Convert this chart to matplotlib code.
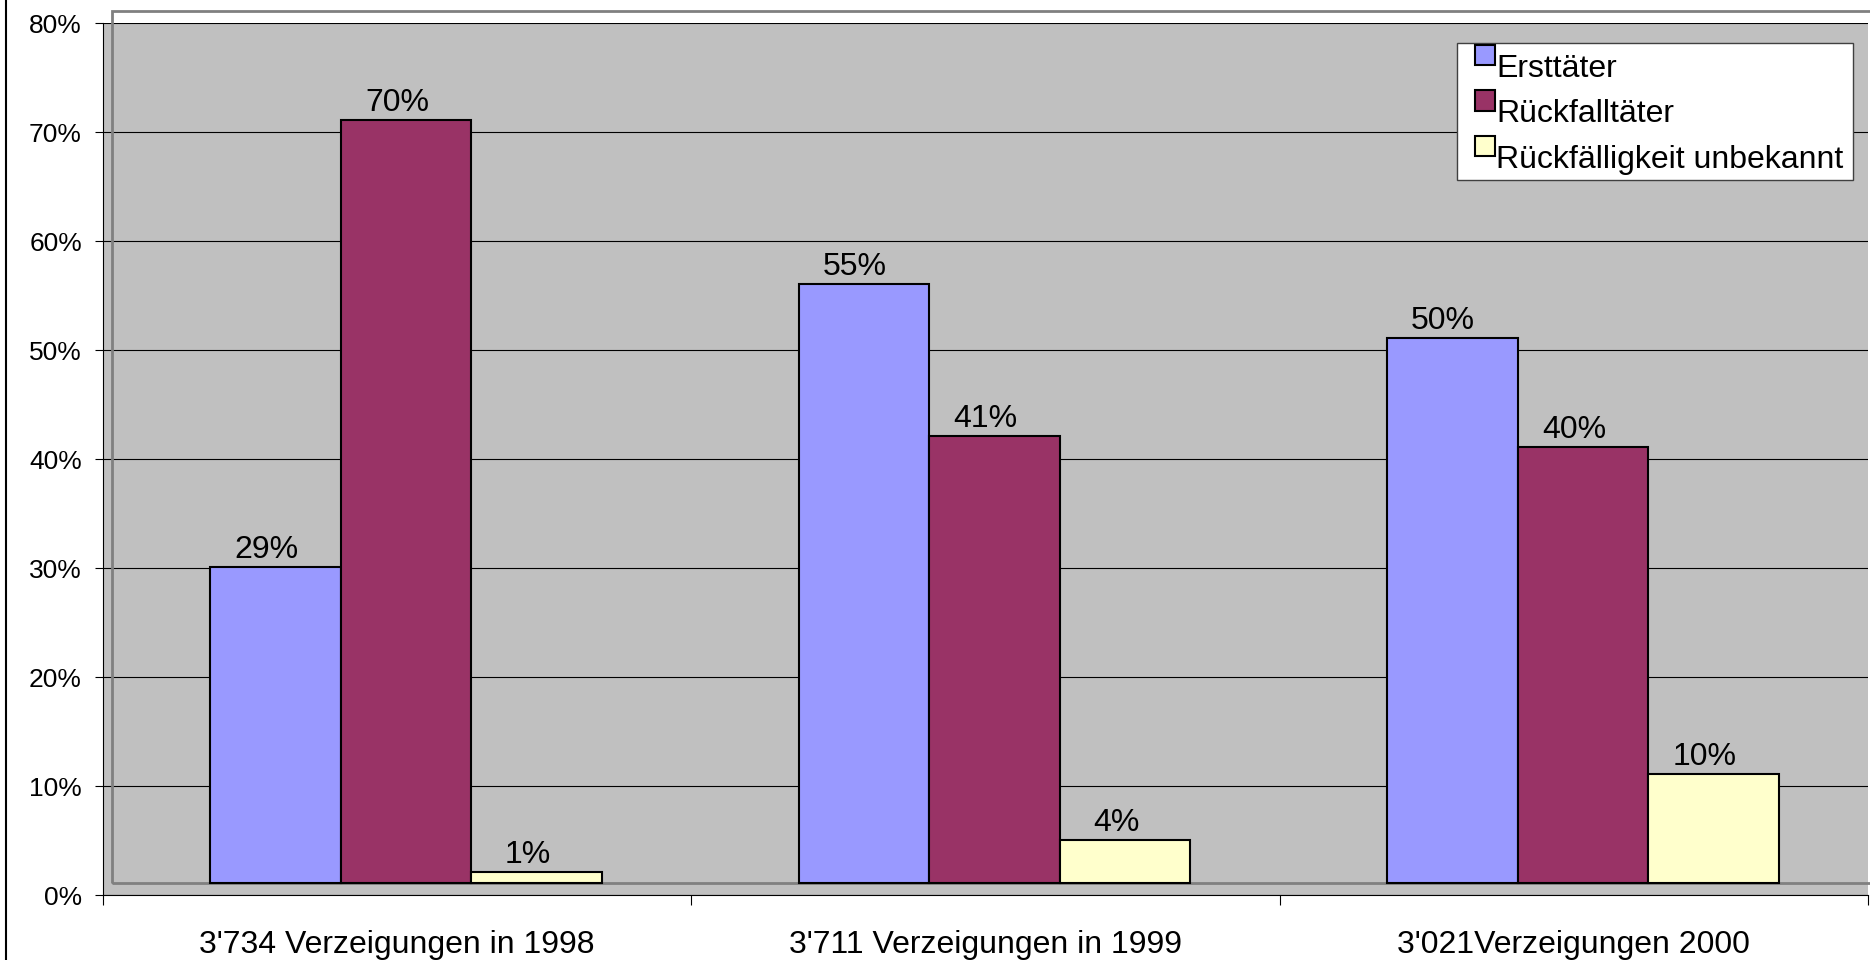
import numpy as np
import matplotlib.pyplot as plt
from matplotlib.patches import Rectangle
from matplotlib.lines import Line2D

plt.rcParams['font.family'] = ['Liberation Sans', 'DejaVu Sans']

# -----------------------------------------------------------------------
# Data (percent)
# -----------------------------------------------------------------------
categories = ["3'734 Verzeigungen in 1998",
              "3'711 Verzeigungen in 1999",
              "3'021Verzeigungen 2000"]
series_names = ['Ersttäter', 'Rückfalltäter', 'Rückfälligkeit unbekannt']
ersttaeter = [29, 55, 50]
rueckfalltaeter = [70, 41, 40]
unbekannt = [1, 4, 10]
series_values = [ersttaeter, rueckfalltaeter, unbekannt]
colors = ['#9999FF', '#993366', '#FFFFCC']

# -----------------------------------------------------------------------
# Layout helpers (pixel -> figure fraction)
# -----------------------------------------------------------------------
W, H = 1870, 960


def fx(px):
    return px / W


def fy(py):
    return 1 - py / H


# pseudo-3D depth shift of the Excel wall (data units)
DX = 0.0153
DY = 0.011
bar_w = 0.222

fig = plt.figure(figsize=(W / 100, H / 100), dpi=100)
ax = fig.add_axes([fx(103), fy(895.3), fx(1868) - fx(103), (895.3 - 23.3) / H])
ax.set_facecolor('#C0C0C0')

x = np.arange(len(categories))

# back wall outline
ax.add_patch(Rectangle((-0.5 + DX, DY), 3, 0.8, fill=False,
                       edgecolor='#808080', lw=2, clip_on=False, zorder=1.5))

for i, (vals, col) in enumerate(zip(series_values, colors)):
    xc = x + (i - 1) * bar_w + DX
    v = np.array(vals) / 100
    ax.bar(xc, v, bar_w, bottom=DY, color=col, edgecolor='black',
           linewidth=1.5, zorder=3)
    for xi, vi, lab in zip(xc, v, vals):
        ax.annotate(f'{lab}%', (xi - DX, vi + DY), xytext=(0, 9),
                    textcoords='offset pixels', ha='center', va='baseline',
                    fontsize=23, zorder=4)

ax.set_xlim(-0.5, 2.5)
ax.set_ylim(0, 0.8)
yt = np.arange(0, 0.81, 0.1)
ax.set_yticks(yt)
ax.set_yticklabels([f'{int(round(t * 100))}%' for t in yt], fontsize=19)
ax.grid(axis='y', color='black', linewidth=0.8)
ax.set_axisbelow(True)

ax.set_xticks(x)
ax.set_xticklabels(categories, fontsize=23)
ax.set_xticks([-0.5, 0.5, 1.5, 2.5], minor=True)
ax.tick_params(axis='x', which='major', length=0, pad=25)
ax.tick_params(axis='x', which='minor', length=7.2, width=0.8,
               color='black', direction='out')
ax.tick_params(axis='y', length=5.8, width=0.8, pad=9.4)

for s in ['top', 'right']:
    ax.spines[s].set_visible(False)
for s in ['left', 'bottom']:
    ax.spines[s].set_color('black')
    ax.spines[s].set_linewidth(0.8)

# -----------------------------------------------------------------------
# Legend (Excel style, marker sits at the top-left of each entry)
# -----------------------------------------------------------------------
fig.add_artist(Rectangle((fx(1457), fy(180)), (1853 - 1457) / W, (180 - 43) / H,
                         transform=fig.transFigure, facecolor='white',
                         edgecolor='#404040', lw=1, zorder=5))
for i, (name, col) in enumerate(zip(series_names, colors)):
    top = 45 + 45.5 * i
    fig.add_artist(Rectangle((fx(1475), fy(top + 20)), 20 / W, 20 / H,
                             transform=fig.transFigure, facecolor=col,
                             edgecolor='black', lw=1.5, zorder=6))
    fig.text(fx(1496), fy(top + 32), name, ha='left', va='baseline',
             fontsize=23, zorder=6)

# left border of the chart frame
fig.add_artist(Line2D([fx(6), fx(6)], [0, 1], color='black', lw=1.5))

fig.savefig('out.png', dpi=100)
